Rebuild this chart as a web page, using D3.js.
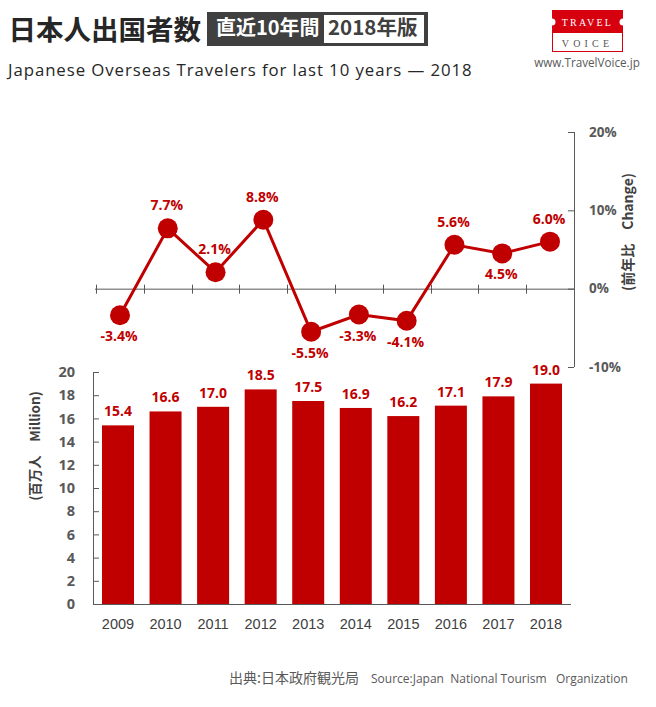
<!DOCTYPE html>
<html>
<head>
<meta charset="utf-8">
<title>Japanese Overseas Travelers</title>
<script src="https://d3js.org/d3.v7.min.js"></script>
<style>
  html, body { margin: 0; padding: 0; background: #fff; }
  svg { display: block; }
  text { font-family: "Noto Sans CJK JP", "Open Sans", sans-serif; }
  .num { font-family: "Open Sans", "Noto Sans", sans-serif; }
  .year { font-family: "Liberation Sans", sans-serif; }
</style>
</head>
<body>
<svg id="chart" width="656" height="707"></svg>
<script>
var years = [2009, 2010, 2011, 2012, 2013, 2014, 2015, 2016, 2017, 2018];
var travelers = [15.4, 16.6, 17.0, 18.5, 17.5, 16.9, 16.2, 17.1, 17.9, 19.0];
var change = [-3.4, 7.7, 2.1, 8.8, -5.5, -3.3, -4.1, 5.6, 4.5, 6.0];
var travelerTicks = [0, 2, 4, 6, 8, 10, 12, 14, 16, 18, 20];
var changeTicks = [-10, 0, 10, 20];

var red = "#c00000", grey = "#595959";
var svg = d3.select("#chart");

// the bar chart and the line chart sit on slightly different category scales
var x = d3.scaleBand().domain(years).range([94, 570]).paddingInner(0.327).paddingOuter(0.168);
var xMid = function(d) { return x(d) + x.bandwidth() / 2; };
var xLine = d3.scalePoint().domain(years).range([120, 550]);
var yBar = d3.scaleLinear().domain([0, 20]).range([604, 372]);
var yLine = d3.scaleLinear().domain([-10, 20]).range([367, 132]);

// header
svg.append("text").attr("x", 8.5).attr("y", 40).attr("font-size", 27.5).attr("font-weight", 700)
  .attr("fill", "#262626").text("日本人出国者数");
svg.append("rect").attr("x", 207).attr("y", 12).attr("width", 221).attr("height", 34).attr("fill", "#404040");
svg.append("rect").attr("x", 324).attr("y", 15).attr("width", 100).attr("height", 28).attr("fill", "#fff");
svg.append("text").attr("x", 216).attr("y", 35).attr("font-size", 20).attr("font-weight", 700)
  .attr("fill", "#fff").text("直近10年間");
svg.append("text").attr("x", 328).attr("y", 35).attr("font-size", 20.5).attr("font-weight", 700)
  .attr("fill", "#404040").text("2018年版");
svg.append("text").attr("x", 8).attr("y", 76).attr("font-size", 16.8).attr("letter-spacing", 0.93)
  .attr("fill", "#262626").style("font-family", "'Open Sans', sans-serif")
  .text("Japanese Overseas Travelers for last 10 years — 2018");

// logo
svg.append("rect").attr("x", 552).attr("y", 10).attr("width", 71).attr("height", 42).attr("fill", "#d7000f");
svg.append("rect").attr("x", 553).attr("y", 33).attr("width", 69).attr("height", 18).attr("fill", "#fff");
svg.append("circle").attr("cx", 552).attr("cy", 22).attr("r", 3.5).attr("fill", "#fff");
svg.append("circle").attr("cx", 623).attr("cy", 22).attr("r", 3.5).attr("fill", "#fff");
svg.append("text").attr("x", 587.5).attr("y", 26).attr("text-anchor", "middle").attr("font-size", 10)
  .attr("letter-spacing", 2.2).attr("fill", "#fff").style("font-family", "'Liberation Serif', serif").text("TRAVEL");
svg.append("text").attr("x", 587.5).attr("y", 47).attr("text-anchor", "middle").attr("font-size", 10)
  .attr("letter-spacing", 4.2).attr("fill", "#555").style("font-family", "'Liberation Serif', serif").text("VOICE");
svg.append("text").attr("x", 587).attr("y", 67).attr("text-anchor", "middle").attr("font-size", 11.7)
  .attr("fill", "#595959").style("font-family", "'Open Sans', sans-serif").text("www.TravelVoice.jp");

// bars
svg.selectAll("rect.bar").data(years).enter().append("rect").attr("class", "bar")
  .attr("x", function(d) { return x(d); })
  .attr("width", x.bandwidth())
  .attr("y", function(d, i) { return yBar(travelers[i]); })
  .attr("height", function(d, i) { return yBar(0) - yBar(travelers[i]); })
  .attr("fill", red);

svg.selectAll("text.barlabel").data(years).enter().append("text").attr("class", "barlabel num")
  .attr("x", xMid)
  .attr("y", function(d, i) { return yBar(travelers[i]) - 9; })
  .attr("text-anchor", "middle").attr("font-size", 14).attr("font-weight", 700).attr("fill", red)
  .text(function(d, i) { return travelers[i].toFixed(1); });

// bar axes
var axisLeft = d3.axisLeft(yBar).tickValues(travelerTicks).tickSize(6).tickPadding(12);
var gLeft = svg.append("g").attr("transform", "translate(93,0)").call(axisLeft);
gLeft.selectAll("path, line").attr("stroke", grey).attr("stroke-width", 1);
gLeft.selectAll("line").attr("x2", 6);
gLeft.selectAll("text").attr("class", "num").attr("font-size", 14.5).attr("font-weight", 700).attr("fill", grey)
  .attr("x", -18);
gLeft.select("path").attr("d", "M0.5," + yBar(20) + "V" + yBar(0));

svg.append("line").attr("x1", 93).attr("x2", 571)
  .attr("y1", yBar(0) + 0.5).attr("y2", yBar(0) + 0.5).attr("stroke", grey);

svg.selectAll("text.year").data(years).enter().append("text").attr("class", "year")
  .attr("x", xMid).attr("y", 629).attr("text-anchor", "middle")
  .attr("font-size", 14.5).attr("fill", "#404040")
  .text(function(d) { return d; });

svg.append("text").attr("transform", "translate(40,446) rotate(-90)").attr("text-anchor", "middle")
  .attr("font-size", 13.5).attr("font-weight", 700).attr("fill", "#404040")
  .style("white-space", "pre").text("(百万人　Million)");

// change axis on the right
var axisRight = d3.axisLeft(yLine).tickValues(changeTicks).tickSize(6).tickFormat("");
var gRight = svg.append("g").attr("transform", "translate(574,0)").call(axisRight);
gRight.selectAll("path, line").attr("stroke", grey).attr("stroke-width", 1);
gRight.select("path").attr("d", "M0.5," + yLine(20) + "V" + yLine(-10));

svg.selectAll("text.pct").data(changeTicks).enter().append("text").attr("class", "pct num")
  .attr("x", 589).attr("y", function(d) { return yLine(d) + 4.5; })
  .attr("font-size", 13.5).attr("font-weight", 700).attr("fill", grey)
  .text(function(d) { return d + "%"; });

svg.append("text").attr("transform", "translate(633,232) rotate(-90)").attr("text-anchor", "middle")
  .attr("font-size", 14).attr("font-weight", 700).attr("fill", "#404040")
  .style("white-space", "pre").text("(前年比　Change)");

// zero line with ticks between categories
svg.append("line").attr("x1", 95).attr("x2", 574)
  .attr("y1", yLine(0) + 0.5).attr("y2", yLine(0) + 0.5).attr("stroke", grey);
svg.selectAll("line.cat").data(years).enter().append("line").attr("class", "cat")
  .attr("x1", function(d) { return Math.round(xLine(d) - xLine.step() / 2) + 0.5; })
  .attr("x2", function(d) { return Math.round(xLine(d) - xLine.step() / 2) + 0.5; })
  .attr("y1", yLine(0) - 4).attr("y2", yLine(0) + 5).attr("stroke", grey);

// line + markers
var line = d3.line().x(function(d) { return xLine(d); })
  .y(function(d, i) { return yLine(change[i]); });
svg.append("path").datum(years).attr("d", line).attr("fill", "none").attr("stroke", red).attr("stroke-width", 3);
svg.selectAll("circle.pt").data(years).enter().append("circle").attr("class", "pt")
  .attr("cx", xLine).attr("cy", function(d, i) { return yLine(change[i]); })
  .attr("r", 10).attr("fill", red);

// labels sit above the marker, or below for the points listed here
var labelBelow = [2009, 2013, 2014, 2015, 2017];
svg.selectAll("text.chg").data(years).enter().append("text").attr("class", "chg num")
  .attr("x", function(d) { return xLine(d) - 1; })
  .attr("y", function(d, i) {
    return yLine(change[i]) + (labelBelow.indexOf(d) >= 0 ? 26 : -18);
  })
  .attr("text-anchor", "middle").attr("font-size", 14).attr("font-weight", 700).attr("fill", red)
  .text(function(d, i) { return change[i].toFixed(1) + "%"; });

// source
svg.append("text").attr("x", 229).attr("y", 683).attr("font-size", 14).attr("fill", "#595959").text("出典:日本政府観光局");
svg.append("text").attr("x", 371).attr("y", 683).attr("font-size", 12).attr("fill", "#595959")
  .style("font-family", "'Open Sans', sans-serif").style("white-space", "pre")
  .text("Source:Japan  National Tourism   Organization");
</script>
</body>
</html>
